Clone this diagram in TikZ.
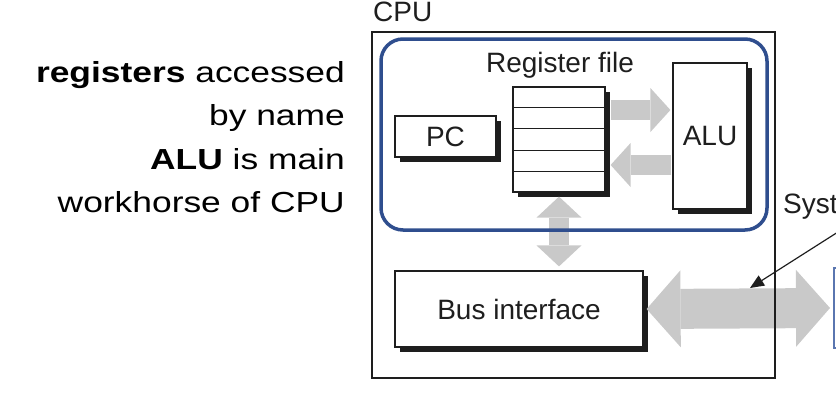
\documentclass[tikz,border=0pt]{standalone}
\usepackage{fontspec}
\setmainfont{Liberation Sans}
\usetikzlibrary{positioning,shadows,arrows.meta,calc}
\definecolor{ink}{HTML}{1E1E1E}
\definecolor{busgray}{HTML}{C9C9C9}
\definecolor{frameblue}{HTML}{2F4E8E}
\definecolor{bridgeblue}{HTML}{5A76B0}
\tikzset{
    none/.style = {inner sep=0pt, text=ink, font=\fontsize{28}{30}\selectfont},
    note/.style = {inner sep=0pt, anchor=base east, font=\fontsize{29}{35}\selectfont},
    unit/.style = {draw=ink, line width=1.2pt, fill=white, inner sep=0pt, text=ink,
        font=\fontsize{28}{30}\selectfont,
        drop shadow={shadow xshift=4.5pt, shadow yshift=-5pt, fill=ink, opacity=1}},
    chip/.style = {draw=ink, line width=1.8pt, inner sep=0pt},
    focus/.style = {draw=frameblue, line width=3.5pt, rounded corners=22pt, inner sep=0pt},
    rowline/.style = {draw=ink, line width=1pt},
    flow/.style = {busgray, line width=20pt,
        -{Triangle[width=44pt,length=20pt,line width=0pt]}},
    flowboth/.style = {busgray, line width=20pt,
        {Triangle[width=45pt,length=21pt,line width=0pt]}-{Triangle[width=45pt,length=21pt,line width=0pt]}},
    busflow/.style = {busgray, line width=40pt,
        {Triangle[width=77pt,length=34pt,line width=0pt]}-{Triangle[width=77pt,length=34pt,line width=0pt]}},
    pointer/.style = {draw=ink, line width=1.2pt,
        -{Triangle[width=12pt,length=14pt,line width=0pt]}}
}

\begin{document}
\begin{tikzpicture}[x=1pt, y=-1pt]
    \useasboundingbox (0, 0) rectangle (836, 408);
    \clip (0, 0) rectangle (836, 408);
    % left notes
    \node [note] (n1) at (345, 82) {\scalebox{1.22}[1]{\textbf{registers} accessed}};
    \node [note] (n2) at (345, 125) {\scalebox{1.22}[1]{by name}};
    \node [note] (n3) at (345, 169) {\scalebox{1.22}[1]{\textbf{ALU} is main}};
    \node [note] (n4) at (345, 212) {\scalebox{1.22}[1]{workhorse of CPU}};
    % cpu
    \node [none, anchor=base west] (cpulabel) at (373, 21) {CPU};
    \node [none, anchor=base] (reglabel) at (560, 72) {Register file};
    \node [unit, minimum width=92pt, minimum height=105pt] (regfile) at (559, 139.5) {};
    \foreach \k in {1,...,4}
        \draw [rowline] ($(regfile.north west)!\k/5!(regfile.south west)$)
            -- ($(regfile.north east)!\k/5!(regfile.south east)$);
    \node [unit, minimum width=101pt, minimum height=41pt] (pc) at (445.5, 136.5) {PC};
    \node [unit, minimum width=74pt, minimum height=146pt] (alu) at (710, 136) {ALU};
    \node [unit, minimum width=248pt, minimum height=76pt] (bus) at (519, 309) {Bus interface};
    \node [none, anchor=base west] (syslabel) at (783, 213) {Syst};
    \coordinate (busend) at (830, 308);
    \coordinate (sysstart) at (838, 232);
    \coordinate (systip) at (750, 288);
    % flows
    \draw [flow] ($(regfile.east)+(5, -29.5)$) -- ($(regfile.east -| alu.west)+(-2, -29.5)$);
    \draw [flow] ($(regfile.east -| alu.west)+(-1, 25.5)$) -- ($(regfile.east)+(5, 25.5)$);
    \draw [flowboth] ($(regfile.south)+(0, 4)$) -- ($(bus.north -| regfile.south)+(0, -4)$);
    \draw [busflow] ($(bus.east)+(3, 0)$) -- (busend);
    \draw [draw=bridgeblue, line width=2pt] (834, 268) rectangle (880, 348);
    \node [chip, minimum width=403pt, minimum height=346pt] (cpu) at (573.5, 205) {};
    \draw [pointer] (sysstart) -- (systip);
    \node [focus, minimum width=386pt, minimum height=191pt] (core) at (574, 134.5) {};
\end{tikzpicture}
\end{document}
